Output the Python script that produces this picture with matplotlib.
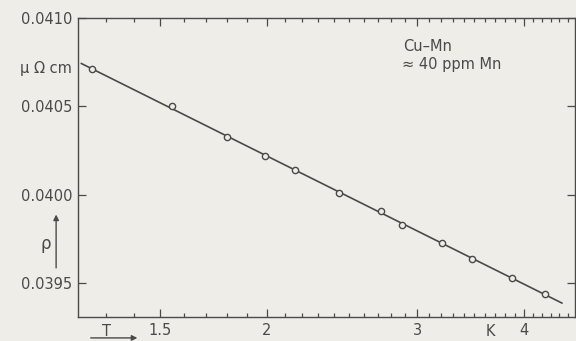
import numpy as np
import matplotlib.pyplot as plt
from matplotlib.ticker import FixedLocator, NullFormatter
from matplotlib.transforms import blended_transform_factory

# data (temperature in K, resistivity in micro-ohm cm)
temp = [1.25, 1.55, 1.80, 1.99, 2.16, 2.43, 2.72, 2.88, 3.21, 3.48, 3.87, 4.23]
rho = [0.04071, 0.04050, 0.04033, 0.04022, 0.04014, 0.04001,
       0.03991, 0.03983, 0.03973, 0.03964, 0.03953, 0.03944]
t_fit = [1.215, 4.43]

x_major = [1.5, 2, 3, 4]
x_major_labels = ["1.5", "2", "3", "4"]
x_minor = [1.3, 1.4, 1.6, 1.7, 1.8, 1.9, 2.1, 2.2, 2.3, 2.4, 2.5, 2.6, 2.7,
           2.8, 2.9, 3.1, 3.2, 3.3, 3.4, 3.5, 3.6, 3.7, 3.8, 3.9, 4.1, 4.2,
           4.3, 4.4, 4.5]
y_major = [0.0395, 0.0400, 0.0405, 0.0410]
y_major_labels = ["0.0395", "0.0400", "0.0405", "0.0410"]

bg = "#eeede8"
ink = "#4a4a48"

plt.rcParams["font.family"] = ["DejaVu Sans"]

fig = plt.figure(figsize=(5.76, 3.41), dpi=100, facecolor=bg)
ax = fig.add_axes([0.1354, 0.0704, 0.8630, 0.8768])
ax.set_facecolor(bg)

# fitted straight line in log T
coef = np.polyfit(np.log(temp), rho, 1)
tt = np.array(t_fit)
ax.plot(tt, coef[0] * np.log(tt) + coef[1], color=ink, lw=1.2, zorder=2)
ax.plot(temp, rho, "o", ms=4.5, mfc=bg, mec=ink, mew=1.0, zorder=3)

ax.set_xscale("log")
ax.set_xlim(1.204, 4.59)
ax.set_ylim(0.03931, 0.0410)

ax.xaxis.set_major_locator(FixedLocator(x_major))
ax.set_xticklabels(x_major_labels)
ax.xaxis.set_minor_locator(FixedLocator(x_minor))
ax.xaxis.set_minor_formatter(NullFormatter())
ax.set_yticks(y_major)
ax.set_yticklabels(y_major_labels)

ax.tick_params(which="both", direction="in", top=True, right=True,
               colors=ink, labelcolor=ink, labelsize=10.5, width=0.9)
ax.tick_params(which="major", length=6, pad=4)
ax.tick_params(which="minor", length=3)
for s in ax.spines.values():
    s.set_color(ink)
    s.set_linewidth(1.0)

# unit labels in the tick label rows
tx = blended_transform_factory(ax.transData, ax.transAxes)
ax.text(1.30, -0.022, "T", transform=tx, ha="center", va="top",
        color=ink, fontsize=10.5)
ax.text(3.65, -0.022, "K", transform=tx, ha="center", va="top",
        color=ink, fontsize=10.5)
ty = blended_transform_factory(ax.transAxes, ax.transData)
ax.text(-0.012, 0.040717, "μ Ω cm", transform=ty, ha="right", va="center",
        color=ink, fontsize=10.5)

# rho with upward arrow, T arrow below
ax.annotate("", xy=(-0.044, 0.352), xytext=(-0.044, 0.155),
            xycoords="axes fraction",
            arrowprops=dict(arrowstyle="-|>", color=ink, lw=1.0,
                            mutation_scale=8), annotation_clip=False)
ax.text(-0.064, 0.245, "ρ", transform=ax.transAxes, ha="center",
        va="center", color=ink, fontsize=12)
ax.annotate("", xy=(0.125, -0.070), xytext=(0.02, -0.070),
            xycoords="axes fraction",
            arrowprops=dict(arrowstyle="-|>", color=ink, lw=1.0,
                            mutation_scale=8), annotation_clip=False)

ax.text(0.655, 0.905, "Cu–Mn", transform=ax.transAxes, color=ink,
        fontsize=10.5, va="center")
ax.text(0.652, 0.845, "≈ 40 ppm Mn", transform=ax.transAxes, color=ink,
        fontsize=10.5, va="center")

fig.savefig("out.png", dpi=100, facecolor=bg)
